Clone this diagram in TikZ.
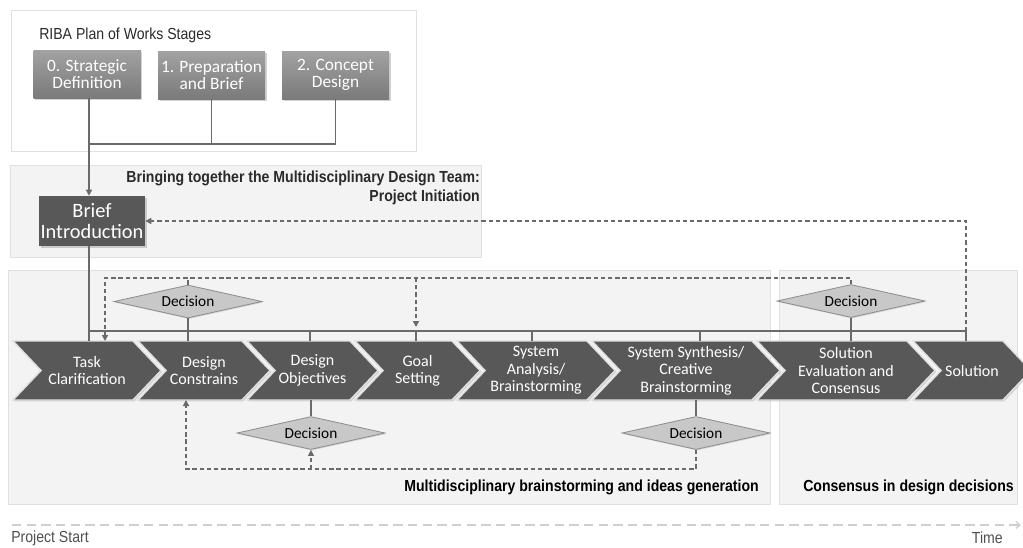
\documentclass[tikz,border=0pt]{standalone}
\usepackage{fontspec}
\setmainfont{Carlito}
\newfontfamily\narrow[FakeStretch=0.88]{Liberation Sans}
\usetikzlibrary{arrows.meta,shapes.geometric,shadows}
\definecolor{chevfill}{HTML}{585858}
\definecolor{briefc}{HTML}{585858}
\definecolor{gtop}{HTML}{A2A2A2}
\definecolor{gbot}{HTML}{7A7A7A}
\definecolor{decfill}{HTML}{C8C8C8}
\definecolor{decline}{HTML}{8C8C8C}
\definecolor{conn}{HTML}{6A6A6A}
\definecolor{panelfill}{HTML}{F3F3F3}
\definecolor{panelline}{HTML}{E0E0E0}
\definecolor{axisc}{HTML}{CFCFCF}
\definecolor{labc}{HTML}{2A2A2A}
\definecolor{greytext}{HTML}{505050}
\tikzset{
  panel/.style={fill=panelfill,draw=panelline,line width=0.6pt},
  ribapanel/.style={fill=white,draw=panelline,line width=0.6pt},
  stagebox/.style={fill=gbot,top color=gtop,bottom color=gbot,draw=none,text=white,
    minimum width=80.25pt,minimum height=36pt,align=center,inner sep=1pt,
    font=\fontsize{13}{12.5}\selectfont,
    drop shadow={opacity=0.35,shadow xshift=1.2pt,shadow yshift=-1.2pt}},
  briefbox/.style={fill=briefc,draw=none,text=white,
    minimum width=79.5pt,minimum height=37.5pt,align=center,inner sep=1pt,
    font=\fontsize{15.3}{15.75}\selectfont,
    drop shadow={opacity=0.35,shadow xshift=1.2pt,shadow yshift=-1.2pt}},
  chevshape/.style={fill=chevfill,draw=white!88!black,line width=1.1pt,line join=miter,
    drop shadow={opacity=0.3,shadow xshift=1pt,shadow yshift=-1pt}},
  chevtext/.style={text=white,align=center,inner sep=0pt,
    font=\fontsize{12}{13}\selectfont},
  decision/.style={diamond,fill=decfill,draw=decline,line width=0.6pt,
    minimum width=111pt,minimum height=24.75pt,aspect=4.5,inner sep=0pt,
    font=\fontsize{11.5}{12}\selectfont,text=black,
    drop shadow={opacity=0.25,shadow xshift=0.8pt,shadow yshift=-0.8pt}},
  connl/.style={draw=conn,line width=1pt},
  dashc/.style={draw=conn,line width=1pt,dash pattern=on 3.2pt off 2.2pt},
  tip/.style={-{Triangle[width=4.5pt,length=4.5pt]}},
  headtext/.style={font=\narrow\fontsize{12}{14}\selectfont\bfseries,text=labc,inner sep=0pt},
  plaintext/.style={font=\narrow\fontsize{12}{14}\selectfont,text=greytext,inner sep=0pt},
}
\newcommand\chevron[4]{%
  \path[chevshape] (#2,341) -- (#3,341) -- (#3+28,370.5) -- (#3,400) -- (#2,400) -- (#2+28,370.5) -- cycle;
  \node[chevtext] (#1) at ({(#2+#3)/2+14},370.5) {#4};}
\begin{document}
\begin{tikzpicture}[x=0.75pt,y=-0.75pt]
\clip (0,0) rectangle (1023,547);
\fill[white] (0,0) rectangle (1023,547);
% panels
\path[ribapanel] (11,10) rectangle (416,151);
\path[panel] (10,165) rectangle (481,257);
\path[panel] (8,270) rectangle (770,504);
\path[panel] (779,270) rectangle (1017,504);
% texts of panels
\node[plaintext,text=labc,anchor=west] (ribat) at (39,35) {RIBA Plan of Works Stages};
\node[headtext,anchor=east] (pi1) at (480,178) {Bringing together the Multidisciplinary Design Team:};
\node[headtext,anchor=east] (pi2) at (480,197) {Project Initiation};
\node[headtext,text=black,anchor=east] (mb) at (759,487) {Multidisciplinary brainstorming and ideas generation};
\node[headtext,text=black,anchor=east] (cd) at (1014,487) {Consensus in design decisions};
% stage boxes
\node[stagebox] (s0) at (87,74) {0. Strategic\\Definition};
\node[stagebox] (s1) at (211.5,75) {1. Preparation\\and Brief};
\node[stagebox] (s2) at (335.5,75) {2. Concept\\Design};
\node[briefbox] (brief) at (92,221) {Brief\\Introduction};
% top connectors
\coordinate (jx) at (89,144);
\draw[connl] (s0.south -| jx) -- (jx);
\draw[connl] (s1.south) |- (jx);
\draw[connl] (s2.south) |- (jx);
\draw[connl,tip] (jx) -- (jx |- brief.north);
% chevrons
\chevron{c1}{13}{133}{Task\\Clarification}
\chevron{c2}{138}{242}{Design\\Constrains}
\chevron{c3}{247}{350}{Design\\Objectives}
\chevron{c4}{355}{452}{Goal\\Setting}
\chevron{c5}{457}{587}{System\\Analysis/\\Brainstorming}
\chevron{c6}{592}{752}{System Synthesis/\\Creative\\Brainstorming}
\chevron{c7}{757}{907}{Solution\\Evaluation and\\Consensus}
\chevron{c8}{913}{1003}{Solution}
% decisions
\node[decision] (d1) at (188,301.5) {Decision};
\node[decision] (d2) at (851,301) {Decision};
\node[decision] (d3) at (311,433) {Decision};
\node[decision] (d4) at (696,433) {Decision};
% named points on chevron edges
\coordinate (t1) at (89,341);
\coordinate (t1d) at (105,341);
\coordinate (t2) at (188,341);
\coordinate (t3) at (310,341);
\coordinate (t4) at (416,341);
\coordinate (t5) at (532,341);
\coordinate (t6) at (700,341);
\coordinate (t7) at (851,341);
\coordinate (t8) at (966,341);
\coordinate (b2) at (186,400);
\coordinate (b3) at (311,400);
\coordinate (b6) at (696,400);
\coordinate (busL) at (89,331);
\coordinate (busR) at (966,331);
% solid bus
\draw[connl] (brief.south -| t1) -- (t1);
\draw[connl] (busL) -- (busR);
\draw[connl] (d1.south) -- (t2);
\draw[connl] (t3 |- busL) -- (t3);
\draw[connl] (t4 |- busL) -- (t4);
\draw[connl] (t5 |- busL) -- (t5);
\draw[connl] (t6 |- busL) -- (t6);
\draw[connl] (d2.south) -- (t7);
\draw[connl] (busR) -- (t8);
\draw[connl] (b3) -- (d3.north);
\draw[connl] (b6) -- (d4.north);
% dashed feedback loops
\coordinate (topy) at (0,278);
\coordinate (boty) at (0,469);
\draw[dashc,tip] (d2.north) -- (d2.north |- topy) -- (t1d |- topy) -- (t1d);
\draw[dashc] (d1.north) -- (d1.north |- topy);
\draw[dashc,tip] (t4 |- topy) -- (416,327);
\draw[dashc,tip] (d4.south) -- (d4.south |- boty) -- (b2 |- boty) -- (b2);
\draw[dashc,tip] (d3.south |- boty) -- (d3.south);
\draw[dashc,tip] (busR) -- (busR |- brief.east) -- (brief.east);
% time axis
\coordinate (ax0) at (12,525);
\coordinate (ax1) at (1021,525);
\draw[draw=axisc,line width=1pt,dash pattern=on 7pt off 4pt,-{Straight Barb[length=3pt,width=5pt]}] (ax0) -- (ax1);
\node[plaintext,anchor=west] (ps) at (11,538) {Project Start};
\node[plaintext,anchor=east] (tm) at (1003,538) {Time};
\end{tikzpicture}
\end{document}
